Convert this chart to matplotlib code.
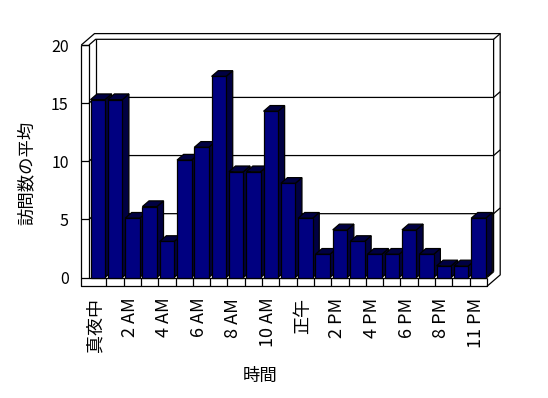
import numpy as np
import matplotlib
matplotlib.use("Agg")
import matplotlib.pyplot as plt
from matplotlib.patches import Polygon

plt.rcParams['font.family'] = ['Noto Sans CJK JP', 'DejaVu Sans']

# data
hours = ['真夜中', '1 AM', '2 AM', '3 AM', '4 AM', '5 AM', '6 AM', '7 AM', '8 AM',
         '9 AM', '10 AM', '11 AM', '正午', '1 PM', '2 PM', '3 PM', '4 PM', '5 PM',
         '6 PM', '7 PM', '8 PM', '9 PM', '11 PM']
visits = [15.3, 15.3, 5.1, 6.1, 3.1, 10.1, 11.2, 17.3, 9.1, 9.1, 14.3, 8.1,
          5.1, 2.0, 4.1, 3.1, 2.0, 2.0, 4.1, 2.0, 1.0, 1.0, 5.1]
yticks = [0, 5, 10, 15, 20]

W, H = 548, 398
fig = plt.figure(figsize=(W / 100, H / 100), dpi=100)
# front plane of the plot box in pixels
left_px, right_px, top_px, bot_px = 89, 487, 45, 277.5
ax = fig.add_axes([left_px / W, 1 - bot_px / H,
                   (right_px - left_px) / W, (bot_px - top_px) / H])
n = len(visits)
xl, xr = -0.5, n - 0.5
ymax = 20
ax.set_xlim(xl, xr)
ax.set_ylim(0, ymax)
for s in ax.spines.values():
    s.set_visible(False)

pxx = (right_px - left_px) / (xr - xl)
pxy = (bot_px - top_px) / ymax
ddx, ddy = 6.6 / pxx, 5.7 / pxy      # depth offset
tx = 7.7 / pxx                       # left wall thickness
fth = 8.8 / pxy                      # floor thickness

lw = 0.9
k = dict(color='black', lw=lw, clip_on=False, zorder=1, solid_capstyle='butt')

# front faces of left wall and floor (L shape)
ax.plot([xl - tx, xl - tx, xr, xr], [ymax, -fth, -fth, 0], **k)
ax.plot([xl - tx, xl, xl, xr], [ymax, ymax, 0, 0], **k)
# top of left wall and back wall
ax.plot([xl - tx, xl - tx + 2 * ddx, xr + 2 * ddx, xr + 2 * ddx, xr],
        [ymax, ymax + 2 * ddy, ymax + 2 * ddy, 2 * ddy - fth, -fth], **k)
ax.plot([xl, xl + ddx, xr + ddx, xr + ddx], [ymax, ymax + ddy, ymax + ddy, ddy], **k)
ax.plot([xr + ddx, xr + 2 * ddx], [ymax + ddy, ymax + 2 * ddy], **k)
ax.plot([xl + ddx, xl + ddx], [ymax + ddy, ddy], **k)
ax.plot([xr, xr + ddx], [0, ddy], **k)

# gridlines on the back wall, ticks on the left wall
for v in yticks[1:-1]:
    ax.plot([xl, xl + ddx, xr + ddx, xr + 2 * ddx], [v, v + ddy, v + ddy, v + 2 * ddy], **k)
for v in yticks:
    ax.plot([xl - tx, xl], [v, v], **k)
# category ticks on the floor front
for i in range(1, n):
    ax.plot([i - 0.5, i - 0.5], [0, -fth], **k)

# bars with side and top faces
a, w = 1.5 / pxx, 14.5 / pxx
front = '#000080'
shade = '#000042'
for i, v in enumerate(visits):
    x0 = i - 0.5 + a
    z = 2 + i * 0.01
    side = [(x0 + w, 0), (x0 + w + ddx, ddy), (x0 + w + ddx, v + ddy), (x0 + w, v)]
    top = [(x0, v), (x0 + ddx, v + ddy), (x0 + w + ddx, v + ddy), (x0 + w, v)]
    ax.add_patch(Polygon(side, closed=True, fc=shade, ec='black', lw=lw,
                         zorder=z, clip_on=False))
    ax.add_patch(Polygon(top, closed=True, fc=shade, ec='black', lw=lw,
                         zorder=z, clip_on=False))
ax.bar([i - 0.5 + a for i in range(n)], visits, width=w, align='edge',
       color=front, edgecolor='black', linewidth=lw, zorder=3, clip_on=False)
# keep the bar fronts above their own side faces but below the next bar
for i, p in enumerate(ax.patches[2 * n:]):
    p.set_zorder(2 + i * 0.01 + 0.005)

ax.set_yticks(yticks)
ax.set_yticklabels([str(v) for v in yticks], fontsize=11.5)
pos = list(range(0, n, 2))
ax.set_xticks([p - 0.15 for p in pos])
ax.set_xticklabels([hours[p] for p in pos], rotation=90, fontsize=13)
ax.tick_params(axis='x', length=0, pad=14.5)
ax.tick_params(axis='y', length=0, pad=14.5)

fig.text(27 / W, 1 - 173 / H, '訪問数の平均', rotation=90, ha='center',
         va='center', fontsize=12.5)
fig.text(260 / W, 1 - 376 / H, '時間', ha='center', va='center', fontsize=12.5)

fig.savefig('out.png', dpi=100)
